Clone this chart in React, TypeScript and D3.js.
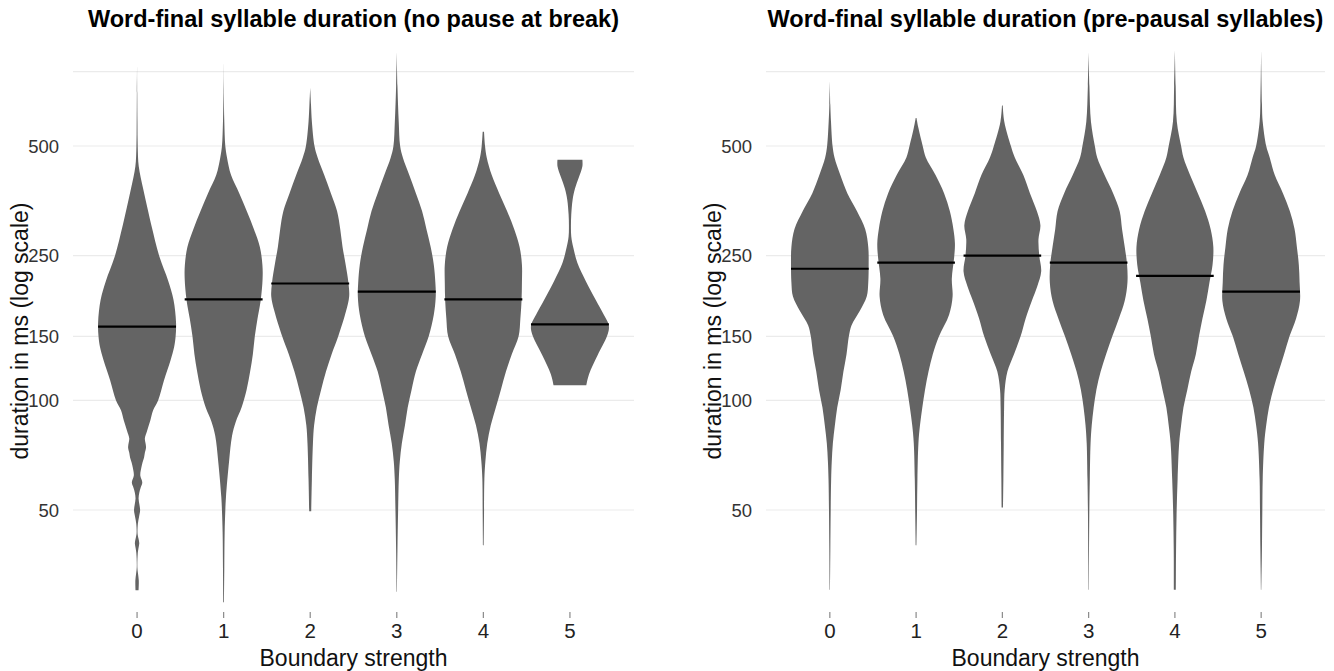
import * as d3 from "d3";

const W = 1334;
const H = 671;
const FONT = "'Liberation Sans', Arial, Helvetica, sans-serif";

const CATEGORIES = ["0", "1", "2", "3", "4", "5"];
const Y_GRID = [50, 100, 150, 250, 500, 800];
const Y_LABELS = ["50", "100", "150", "250", "500", ""];

// violin profiles: [duration in ms, relative half-width]
const NOPAUSE_0: [number, number][] = [
  [830, 0], [700, 0.005], [580, 0.01], [498, 0.017], [440, 0.043], [382, 0.155],
  [340, 0.26], [302, 0.37], [248, 0.575], [213, 0.8], [189, 0.935], [164, 1.0],
  [150, 0.99], [140, 0.95], [129, 0.86], [113.5, 0.69], [100, 0.54], [93.9, 0.41],
  [88.1, 0.34], [82.7, 0.26], [78.6, 0.2], [76.5, 0.215], [74.3, 0.23], [71.8, 0.2],
  [69.7, 0.18], [67.5, 0.14], [65.4, 0.11], [62.2, 0.083], [59.5, 0.134], [57.5, 0.09],
  [55.8, 0.057], [53.8, 0.039], [51.8, 0.06], [49.9, 0.078], [47.8, 0.05], [45.8, 0.021],
  [43.1, 0.013], [41.8, 0.035], [40.5, 0.057], [39.2, 0.035], [38.0, 0.018], [34.8, 0.008],
  [33.4, 0.025], [32.0, 0.044], [30.1, 0.039],
];
const NOPAUSE_1: [number, number][] = [
  [847, 0], [700, 0.005], [583, 0.017], [500, 0.043], [465, 0.086], [416, 0.19],
  [371, 0.4], [331, 0.595], [296, 0.775], [264, 0.93], [236, 0.995], [216, 1.0],
  [188, 0.95], [168, 0.87], [150, 0.8], [134, 0.75], [120, 0.68], [107, 0.59],
  [95.6, 0.46], [87.3, 0.31], [79.8, 0.215], [68.1, 0.14], [54.3, 0.06], [49.8, 0.043],
  [43.3, 0.026], [34.6, 0.017], [27.9, 0.01],
];
const NOPAUSE_2: [number, number][] = [
  [723, 0], [650, 0.02], [583, 0.043], [500, 0.11], [465, 0.19], [416, 0.36],
  [371, 0.53], [331, 0.69], [296, 0.77], [264, 0.83], [236, 0.91], [211, 0.98],
  [193, 1.0], [176, 0.92], [150, 0.72], [134, 0.55], [120, 0.405], [107, 0.28],
  [95.6, 0.17], [85.4, 0.1], [76.3, 0.07], [60.8, 0.043], [49.6, 0.026],
];
const NOPAUSE_3: [number, number][] = [
  [906, 0], [731, 0.017], [583, 0.05], [500, 0.086], [465, 0.155], [416, 0.32],
  [371, 0.49], [331, 0.65], [296, 0.76], [264, 0.87], [236, 0.95], [211, 0.99],
  [193, 1.0], [172, 0.95], [150, 0.82], [134, 0.65], [120, 0.49], [107, 0.38],
  [95.6, 0.28], [85.4, 0.21], [76.3, 0.13], [68.1, 0.078], [60.8, 0.052], [49.8, 0.034],
  [38.7, 0.017], [29.8, 0.005],
];
const NOPAUSE_4: [number, number][] = [
  [547, 0.017], [500, 0.043], [465, 0.086], [416, 0.215], [371, 0.405], [331, 0.61],
  [296, 0.79], [264, 0.93], [236, 0.99], [211, 0.99], [188, 0.98], [168, 0.95],
  [150, 0.905], [134, 0.73], [120, 0.58], [107, 0.45], [95.6, 0.32], [85.4, 0.19],
  [76.3, 0.1], [68.1, 0.052], [60.8, 0.026], [48.5, 0.017], [40, 0.01],
];
const NOPAUSE_5: [number, number][] = [
  [458, 0.32], [440, 0.32], [410, 0.23], [382, 0.13], [356, 0.069], [324, 0.034],
  [302, 0.026], [282, 0.034], [263, 0.086], [239, 0.19], [213, 0.405], [189, 0.66],
  [172, 0.87], [162, 0.99], [157, 1.0], [150, 0.95], [133, 0.71], [118, 0.49], [110, 0.42],
];

const PREPAUSAL_0: [number, number][] = [
  [756, 0], [650, 0.012], [583, 0.03], [500, 0.07], [465, 0.12], [416, 0.27],
  [371, 0.45], [331, 0.7], [296, 0.91], [264, 0.99], [236, 1.0], [211, 0.99],
  [193, 0.95], [176, 0.77], [161, 0.56], [150, 0.49], [134, 0.43], [120, 0.35],
  [107, 0.28], [95.6, 0.19], [85.4, 0.13], [76.3, 0.078], [68.1, 0.05], [60.8, 0.034],
  [49.8, 0.022], [38.7, 0.013], [30.2, 0.005],
];
const PREPAUSAL_1: [number, number][] = [
  [597, 0.01], [560, 0.06], [500, 0.17], [465, 0.25], [416, 0.5], [371, 0.72],
  [331, 0.87], [296, 0.96], [270, 1.0], [247, 0.98], [216, 0.92], [193, 0.94],
  [172, 0.85], [150, 0.59], [134, 0.43], [120, 0.32], [107, 0.23], [95.6, 0.16],
  [85.4, 0.1], [76.3, 0.06], [60.8, 0.034], [48.5, 0.022], [40, 0.01],
];
const PREPAUSAL_2: [number, number][] = [
  [646, 0.01], [583, 0.05], [500, 0.22], [465, 0.32], [416, 0.54], [371, 0.71],
  [331, 0.89], [303, 0.98], [277, 0.93], [250, 0.95], [226, 1.0], [206, 0.9],
  [188, 0.76], [168, 0.6], [150, 0.47], [134, 0.3], [120, 0.13], [107, 0.06],
  [95.6, 0.045], [76.3, 0.035], [60.8, 0.026], [50.8, 0.017],
];
const PREPAUSAL_3: [number, number][] = [
  [906, 0], [731, 0.02], [583, 0.06], [500, 0.16], [465, 0.22], [416, 0.41],
  [371, 0.63], [331, 0.8], [296, 0.86], [264, 0.93], [236, 0.99], [211, 1.0],
  [188, 0.93], [168, 0.78], [150, 0.61], [134, 0.45], [120, 0.31], [107, 0.2],
  [95.6, 0.13], [85.4, 0.08], [76.3, 0.05], [60.8, 0.03], [48.5, 0.017], [30.2, 0.005],
];
const PREPAUSAL_4: [number, number][] = [
  [917, 0], [731, 0.02], [583, 0.05], [500, 0.16], [465, 0.22], [416, 0.39],
  [371, 0.59], [331, 0.78], [296, 0.92], [264, 0.99], [236, 0.97], [211, 0.89],
  [188, 0.81], [168, 0.71], [150, 0.62], [134, 0.54], [120, 0.42], [107, 0.32],
  [95.6, 0.22], [85.4, 0.16], [76.3, 0.11], [60.8, 0.07], [48.5, 0.043], [38.7, 0.03],
  [30.2, 0.026],
];
const PREPAUSAL_5: [number, number][] = [
  [917, 0], [653, 0.02], [583, 0.04], [500, 0.13], [465, 0.22], [416, 0.35],
  [371, 0.56], [331, 0.74], [296, 0.86], [264, 0.92], [236, 0.97], [211, 0.99],
  [188, 1.0], [168, 0.9], [150, 0.73], [134, 0.59], [120, 0.45], [107, 0.31],
  [95.6, 0.2], [85.4, 0.13], [76.3, 0.08], [60.8, 0.04], [49.8, 0.03], [38.7, 0.02],
  [30.2, 0.005],
];

const NOPAUSE_MEDIANS = [159.5, 189.6, 209.5, 199, 189.6, 161.7];
const PREPAUSAL_MEDIANS = [230, 239, 250, 239, 220, 199];

const yScale = d3.scaleLog().domain([50, 500]).range([510, 146]);

type PanelProps = {
  title: string;
  x0: number;
  x1: number;
  violins: [number, number][][];
  medians: number[];
};

const Panel = ({ title, x0, x1, violins, medians }: PanelProps) => {
  const xScale = d3.scalePoint<string>().domain(CATEGORIES).range([x0, x1]).padding(0.74);
  const halfWidth = 0.45 * xScale.step();
  const mid = (x0 + x1) / 2;

  return (
    <g>
      {/* grid */}
      {Y_GRID.map((v, i) => (
        <line key={i} x1={x0} x2={x1} y1={yScale(v)} y2={yScale(v)} stroke="#ebebeb" strokeWidth={1.2} />
      ))}
      {/* violins */}
      {violins.map((profile, i) => {
        const cx = xScale(CATEGORIES[i]) as number;
        const area = d3
          .area<[number, number]>()
          .y((d) => yScale(d[0]))
          .x0((d) => cx - d[1] * halfWidth)
          .x1((d) => cx + d[1] * halfWidth)
          .curve(d3.curveCatmullRom.alpha(0.5));
        return <path key={i} d={area(profile) || ""} fill="#646464" />;
      })}
      {/* medians */}
      {medians.map((m, i) => {
        const cx = xScale(CATEGORIES[i]) as number;
        return (
          <line key={i} x1={cx - halfWidth} x2={cx + halfWidth} y1={yScale(m)} y2={yScale(m)} stroke="#000" strokeWidth={2.2} />
        );
      })}
      {/* y labels */}
      {Y_GRID.map((v, i) => (
        <text key={i} x={x0 - 14} y={yScale(v)} textAnchor="end" dominantBaseline="central" fontSize={18.5} fill="#333">
          {Y_LABELS[i]}
        </text>
      ))}
      {/* x ticks + labels */}
      {CATEGORIES.map((c) => (
        <g key={c}>
          <line x1={xScale(c)} x2={xScale(c)} y1={612} y2={618} stroke="#8a8a8a" strokeWidth={1.2} />
          <text x={xScale(c)} y={638} textAnchor="middle" fontSize={20.5} fill="#222">
            {c}
          </text>
        </g>
      ))}
      <text x={mid} y={666} textAnchor="middle" fontSize={23} fill="#111">
        Boundary strength
      </text>
      <text transform={`translate(${x0 - 45}, 331) rotate(-90)`} textAnchor="middle" fontSize={23} fill="#111">
        duration in ms (log scale)
      </text>
      <text x={mid} y={27} textAnchor="middle" fontSize={23.5} fontWeight="bold" fill="#000">
        {title}
      </text>
    </g>
  );
};

export default function App() {
  return (
    <svg
      width={W}
      height={H}
      style={{ position: "absolute", left: 0, top: 0, background: "#fff", fontFamily: FONT }}
    >
      <Panel
        title="Word-final syllable duration (no pause at break)"
        x0={73}
        x1={634}
        violins={[NOPAUSE_0, NOPAUSE_1, NOPAUSE_2, NOPAUSE_3, NOPAUSE_4, NOPAUSE_5]}
        medians={NOPAUSE_MEDIANS}
      />
      <Panel
        title="Word-final syllable duration (pre-pausal syllables)"
        x0={766}
        x1={1325}
        violins={[PREPAUSAL_0, PREPAUSAL_1, PREPAUSAL_2, PREPAUSAL_3, PREPAUSAL_4, PREPAUSAL_5]}
        medians={PREPAUSAL_MEDIANS}
      />
    </svg>
  );
}
